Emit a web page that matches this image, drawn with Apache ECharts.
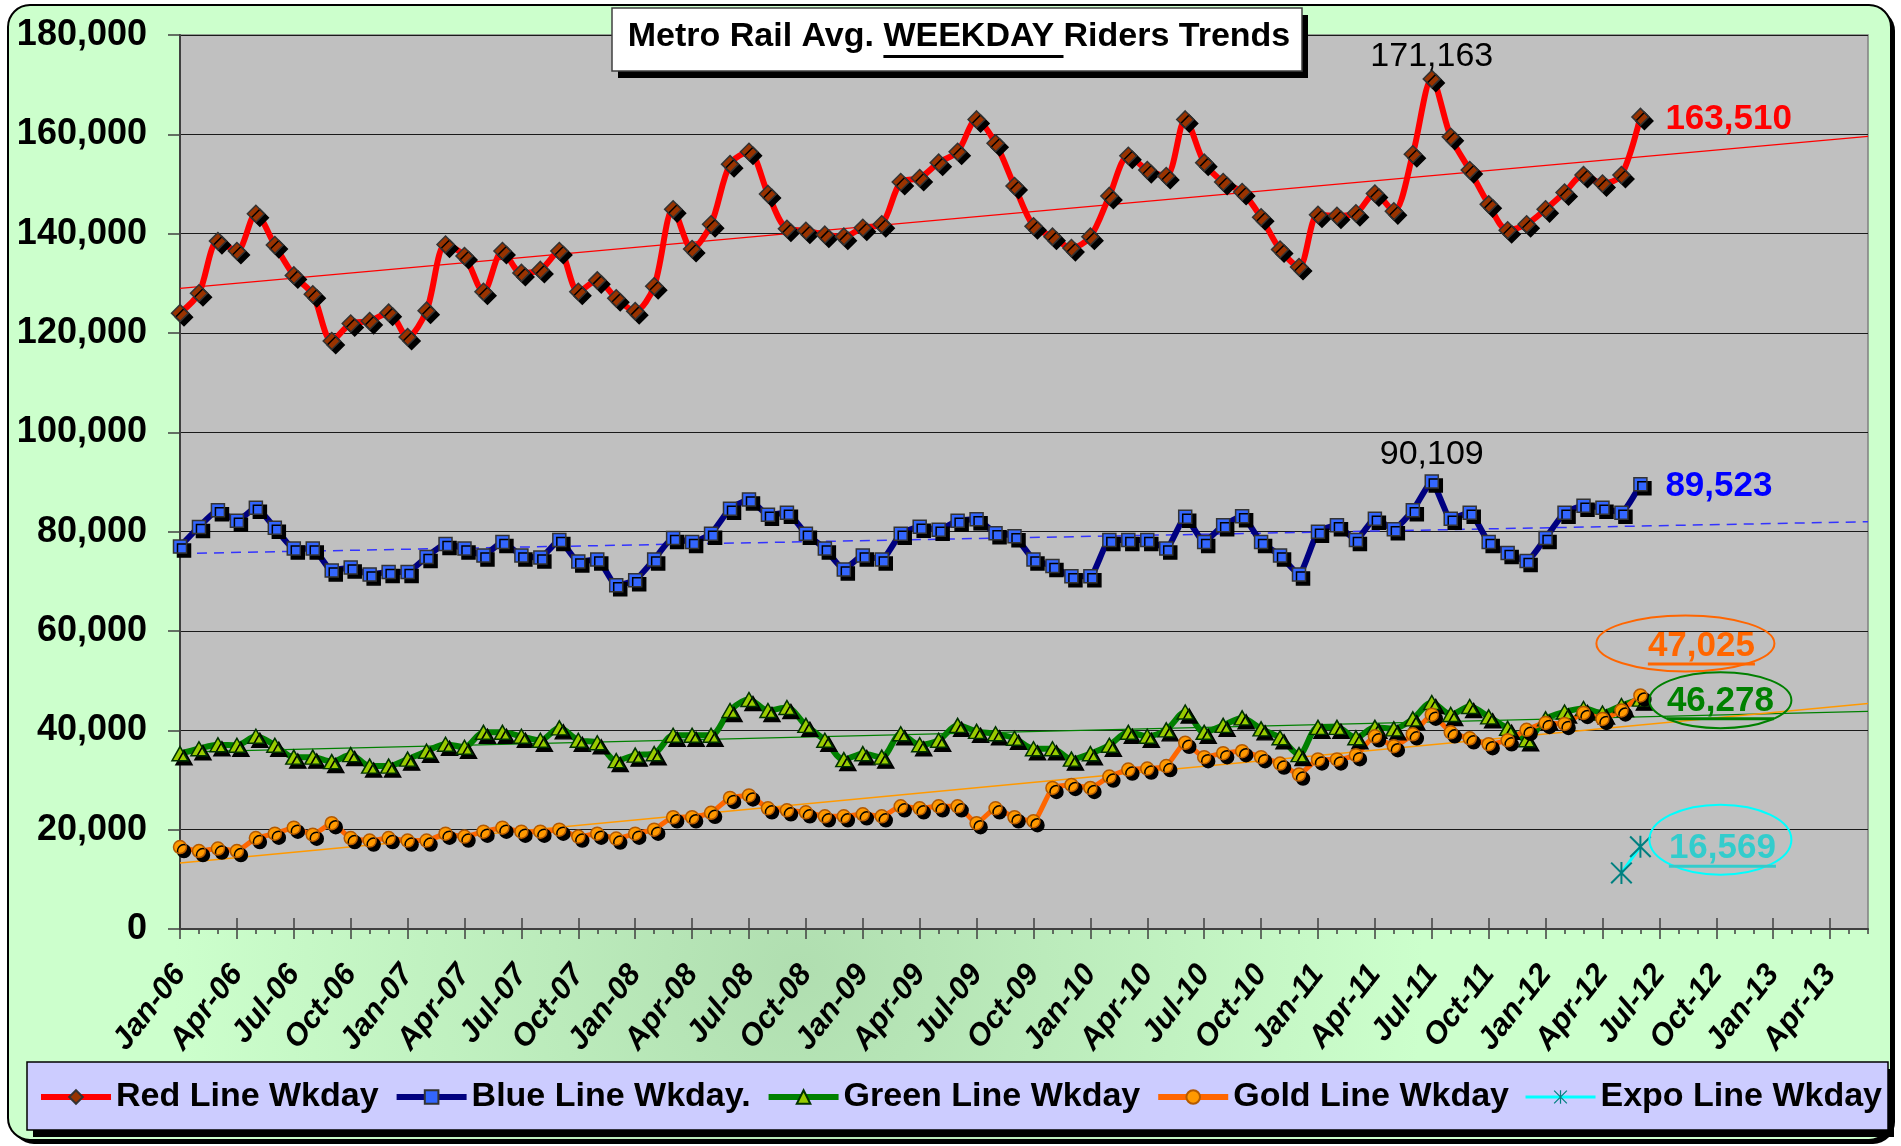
<!DOCTYPE html>
<html>
<head>
<meta charset="utf-8">
<title>Metro Rail Avg. WEEKDAY Riders Trends</title>
<script src="https://cdn.jsdelivr.net/npm/echarts@6/dist/echarts.min.js"></script>
<style>
  html, body { margin: 0; padding: 0; background: #fff; }
  #chart { width: 1901px; height: 1146px; }
</style>
</head>
<body>
<div id="chart"></div>
<script>
const months = [
  'Jan-06','Feb-06','Mar-06','Apr-06','May-06','Jun-06','Jul-06','Aug-06','Sep-06','Oct-06','Nov-06','Dec-06',
  'Jan-07','Feb-07','Mar-07','Apr-07','May-07','Jun-07','Jul-07','Aug-07','Sep-07','Oct-07','Nov-07','Dec-07',
  'Jan-08','Feb-08','Mar-08','Apr-08','May-08','Jun-08','Jul-08','Aug-08','Sep-08','Oct-08','Nov-08','Dec-08',
  'Jan-09','Feb-09','Mar-09','Apr-09','May-09','Jun-09','Jul-09','Aug-09','Sep-09','Oct-09','Nov-09','Dec-09',
  'Jan-10','Feb-10','Mar-10','Apr-10','May-10','Jun-10','Jul-10','Aug-10','Sep-10','Oct-10','Nov-10','Dec-10',
  'Jan-11','Feb-11','Mar-11','Apr-11','May-11','Jun-11','Jul-11','Aug-11','Sep-11','Oct-11','Nov-11','Dec-11',
  'Jan-12','Feb-12','Mar-12','Apr-12','May-12','Jun-12','Jul-12','Aug-12','Sep-12','Oct-12','Nov-12','Dec-12',
  'Jan-13','Feb-13','Mar-13','Apr-13','May-13','Jun-13'
];

const redLine = [
  124000,128000,138500,136500,144000,137700,131600,127800,118400,121900,122400,124100,
  119200,124500,137800,135500,128300,136500,132100,132700,136500,128300,130600,127000,
  124400,129400,144900,136900,141900,154000,156500,148000,141000,140600,139800,139400,
  141200,141900,150400,151200,154300,156500,163000,158200,149600,141500,139400,137100,
  139400,147600,155700,152800,151600,163000,154300,150400,148400,143300,136800,133300,
  143800,143600,144100,148100,144500,156000,171163,159500,152800,145900,140700,141900,
  144900,148300,151800,150100,151800,163510
];
const blueLine = [
  77000,80950,84300,82200,84800,80800,76600,76600,72200,72800,71400,71900,
  71900,74900,77500,76600,75200,77900,75200,74800,78300,74000,74400,69200,
  70200,74400,78700,77900,79600,84600,86500,83400,83800,79600,76600,72400,
  75200,74400,79600,81000,80400,82200,82500,79700,79100,74400,73100,71000,
  71000,78300,78300,78300,76600,83000,77900,81300,83100,77900,75200,71400,
  80000,81300,78300,82600,80500,84300,90109,82600,83800,77900,75700,74100,
  78700,83800,85200,84800,83800,89523
];
const greenLine = [
  35300,36300,37100,37000,38800,37000,34600,34600,33700,35100,32800,32800,
  34200,35800,37200,36600,39600,39600,38800,38000,40500,38000,37500,33900,
  35000,35300,39000,39000,39000,44000,46200,44000,44600,41000,38000,34100,
  35300,34600,39300,37100,38000,41000,39800,39300,38400,36300,36300,34200,
  35300,37000,39600,38800,40100,43700,39600,41000,42500,40300,38500,35100,
  40600,40600,38500,40600,40300,42300,45600,43200,44800,42700,40400,38100,
  42300,43700,44400,43500,45000,46278
];
const goldLine = [
  16500,15700,16200,15700,18300,19200,20400,19000,21300,18300,17800,18300,
  17800,17800,19200,18600,19600,20400,19600,19600,20000,18600,19200,18200,
  19200,20000,22500,22500,23400,26400,26900,24300,23900,23500,22700,22700,
  23100,22700,24700,24300,24700,24700,21300,24300,22500,21700,28400,29000,
  28400,30700,32100,32300,32800,37500,34600,35400,35800,34600,33300,31100,
  34150,34150,35000,38800,36800,39200,43150,39600,38400,37200,38000,40100,
  41500,41300,43500,42300,44000,47025
];
const expoMonths = ['May-12', 'Jun-12'];
const expoLine = [11300, 16569];

// trend lines: value at first and last month of the axis
const redTrend = [129000, 159600];
const blueTrend = [75600, 82000];
const greenTrend = [35600, 43800];
const goldTrend = [13300, 45400];

const seriesNames = ['Red Line Wkday', 'Blue Line Wkday.', 'Green Line Wkday', 'Gold Line Wkday', 'Expo Line Wkday'];
const titlePre = 'Metro Rail Avg. ';
const titleKey = 'WEEKDAY';
const titlePost = ' Riders Trends';

const FONT = '"Liberation Sans", Arial, sans-serif';
const chart = echarts.init(document.getElementById('chart'));

const fmt = v => v.toLocaleString('en-US');
const measureCtx = document.createElement('canvas').getContext('2d');
function textWidth(str, font) {
  measureCtx.font = font;
  return measureCtx.measureText(str).width;
}

const markShadow = { shadowColor: '#000', shadowBlur: 0, shadowOffsetX: 4, shadowOffsetY: 4 };
const asterisk = 'path://M9.1,0H10.9V20H9.1Z M0,1.3L1.3,0L20,18.7L18.7,20Z M18.7,0L20,1.3L1.3,20L0,18.7Z';

function trend(name, vals, color, width, type) {
  return {
    name, type: 'line', silent: true, z: 1,
    data: [[months[0], vals[0]], [months[months.length - 1], vals[1]]],
    symbol: 'none',
    lineStyle: { color, width, type },
    emphasis: { disabled: true },
  };
}

const gridBox = { left: 180, right: 33, top: 35, bottom: 217 };
const tickStyle = { color: '#404040', width: 1.5 };
const legendLineWidths = [6, 6, 6, 6, 3];

const option = {
  animation: false,
  backgroundColor: 'transparent',
  grid: [
    { ...gridBox, show: true, backgroundColor: '#c0c0c0', borderColor: '#808080', borderWidth: 1.5 },
    { ...gridBox },
    { ...gridBox },
  ],
  legend: {
    data: seriesNames.map((name, i) => ({ name, lineStyle: { width: legendLineWidths[i] } })),
    left: 38,
    top: 1080,
    padding: 0,
    itemWidth: 70,
    itemHeight: 17,
    itemGap: 15,
    selectedMode: false,
    textStyle: { fontFamily: FONT, fontWeight: 'bold', fontSize: 34, color: '#000' },
  },
  xAxis: [
    {
      type: 'category', data: months, boundaryGap: false, gridIndex: 0,
      axisLine: { lineStyle: { color: '#404040', width: 2 } },
      axisTick: { interval: 0, length: 5, lineStyle: tickStyle },
      axisLabel: {
        interval: 2, rotate: 52, margin: 40, color: '#000',
        fontFamily: FONT, fontWeight: 'bold', fontStyle: 'italic', fontSize: 31,
      },
      splitLine: { show: false },
    },
    {
      type: 'category', data: months, boundaryGap: false, gridIndex: 1,
      axisLine: { show: false },
      axisTick: { interval: 2, length: 10, lineStyle: tickStyle },
      axisLabel: { show: false },
    },
    {
      type: 'category', data: months, boundaryGap: false, gridIndex: 2,
      axisLine: { show: false },
      axisTick: { interval: 2, inside: true, length: 11, lineStyle: tickStyle },
      axisLabel: { show: false },
    },
  ],
  yAxis: [
    {
      type: 'value', min: 0, max: 180000, interval: 20000, gridIndex: 0,
      axisLine: { show: true, lineStyle: { color: '#404040', width: 2 } },
      axisTick: { show: true, length: 12, lineStyle: tickStyle },
      axisLabel: {
        margin: 33, color: '#000', fontFamily: FONT, fontWeight: 'bold', fontSize: 36,
        formatter: v => fmt(v),
      },
      splitLine: { lineStyle: { color: '#1a1a1a', width: 1.2 } },
    },
    { type: 'value', min: 0, max: 180000, gridIndex: 1, show: false },
    { type: 'value', min: 0, max: 180000, gridIndex: 2, show: false },
  ],
  series: [
    trend('Red trend', redTrend, '#ff0000', 1.2, 'solid'),
    trend('Blue trend', blueTrend, '#3333ff', 1.5, [10, 7]),
    trend('Green trend', greenTrend, '#008000', 1.2, 'solid'),
    trend('Gold trend', goldTrend, '#ff9900', 1.5, 'solid'),
    {
      name: seriesNames[0], type: 'line', data: redLine, smooth: 0.3, z: 3,
      showAllSymbol: true, symbol: 'diamond', symbolSize: 17,
      lineStyle: { color: '#ff0000', width: 6 },
      itemStyle: { color: '#993300', borderColor: '#333333', borderWidth: 1.5, ...markShadow },
    },
    {
      name: seriesNames[1], type: 'line', data: blueLine, smooth: 0.15, z: 3,
      showAllSymbol: true, symbol: 'rect', symbolSize: 13,
      lineStyle: { color: '#000080', width: 6 },
      itemStyle: { color: '#3366ff', borderColor: '#333333', borderWidth: 1.5, ...markShadow },
    },
    {
      name: seriesNames[2], type: 'line', data: greenLine, smooth: 0.3, z: 3,
      showAllSymbol: true, symbol: 'triangle', symbolSize: [16, 14],
      lineStyle: { color: '#008000', width: 6 },
      itemStyle: { color: '#99cc00', borderColor: '#003300', borderWidth: 1.5, ...markShadow },
    },
    {
      name: seriesNames[3], type: 'line', data: goldLine, smooth: 0.15, z: 3,
      showAllSymbol: true, symbol: 'circle', symbolSize: 13,
      lineStyle: { color: '#ff6600', width: 5 },
      itemStyle: { color: '#ff9900', borderColor: '#b35900', borderWidth: 1.5, ...markShadow },
    },
    {
      name: seriesNames[4], type: 'line', z: 3,
      data: expoMonths.map((m, i) => [m, expoLine[i]]),
      showAllSymbol: true, symbol: asterisk, symbolSize: 22,
      lineStyle: { color: '#00ffff', width: 3 },
      itemStyle: { color: '#008080' },
    },
  ],
};

chart.setOption(option);

function px(idx, val) {
  return chart.convertToPixel({ xAxisIndex: 0, yAxisIndex: 0 }, [idx, val]);
}

function buildGraphics() {
  const els = [];
  // outer frame and background
  els.push({ type: 'rect', z: -20, silent: true, shape: { x: 12, y: 9, width: 1883, height: 1135, r: 22 }, style: { fill: '#000' } });
  els.push({
    type: 'rect', z: -19, silent: true,
    shape: { x: 8, y: 5, width: 1883, height: 1135, r: 22 },
    style: {
      fill: new echarts.graphic.RadialGradient(0.42, 0.85, 0.55, [
        { offset: 0, color: '#b0deb0' }, { offset: 1, color: '#ccffcc' },
      ]),
      stroke: '#000', lineWidth: 2,
    },
  });
  // legend box
  els.push({ type: 'rect', z: -5, silent: true, shape: { x: 33, y: 1069, width: 1861, height: 68 }, style: { fill: '#000' } });
  els.push({ type: 'rect', z: -4, silent: true, shape: { x: 27, y: 1062, width: 1861, height: 68 }, style: { fill: '#ccccff', stroke: '#000', lineWidth: 1.5 } });

  // title box
  const titleFont = 'bold 34px ' + FONT;
  const titleText = titlePre + titleKey + titlePost;
  const tLeft = 959 - textWidth(titleText, titleFont) / 2;
  els.push({ type: 'rect', z: 50, silent: true, shape: { x: 618, y: 15, width: 690, height: 63 }, style: { fill: '#000' } });
  els.push({ type: 'rect', z: 51, silent: true, shape: { x: 612, y: 8, width: 690, height: 63 }, style: { fill: '#fff', stroke: '#404040', lineWidth: 1.5 } });
  els.push({ type: 'text', z: 52, silent: true, x: tLeft, y: 37, style: { text: titleText, font: titleFont, fill: '#000', align: 'left', verticalAlign: 'middle' } });
  const u1 = tLeft + textWidth(titlePre, titleFont);
  const u2 = tLeft + textWidth(titlePre + titleKey + ' ', titleFont);
  els.push({ type: 'rect', z: 52, silent: true, shape: { x: u1, y: 55, width: u2 - u1, height: 3 }, style: { fill: '#000' } });

  // peak labels
  const peakFont = '34px ' + FONT;
  [[redLine, -22], [blueLine, -27]].forEach(([arr, dy]) => {
    const v = Math.max(...arr);
    const p = px(arr.indexOf(v), v);
    els.push({ type: 'text', z: 60, silent: true, x: p[0], y: p[1] + dy, style: { text: fmt(v), font: peakFont, fill: '#000', align: 'center', verticalAlign: 'middle' } });
  });

  // latest values
  const endFont = 'bold 35px ' + FONT;
  const last = arr => arr[arr.length - 1];
  const lastIdx = redLine.length - 1;
  [[redLine, '#ff0000'], [blueLine, '#0000ff']].forEach(([arr, color]) => {
    const p = px(lastIdx, last(arr));
    els.push({ type: 'text', z: 60, silent: true, x: p[0] + 25, y: p[1] + 2, style: { text: fmt(last(arr)), font: endFont, fill: color, align: 'left', verticalAlign: 'middle' } });
  });
  const circled = [
    { val: last(goldLine), idx: lastIdx, color: '#ff6600', ring: '#ff6600', tx: 61, ty: -49, ex: 45, ey: -52, rx: 89, ry: 28 },
    { val: last(greenLine), idx: lastIdx, color: '#008000', ring: '#008000', tx: 80, ty: 2, ex: 80, ey: 1, rx: 71, ry: 28 },
    { val: last(expoLine), idx: months.indexOf(expoMonths[expoMonths.length - 1]), color: '#33cccc', ring: '#00ffff', tx: 82, ty: 2, ex: 80, ey: -7, rx: 71, ry: 35 },
  ];
  circled.forEach(c => {
    const p = px(c.idx, c.val);
    const txt = fmt(c.val);
    const w = textWidth(txt, endFont);
    const cx = p[0] + c.tx, cy = p[1] + c.ty;
    els.push({ type: 'ellipse', z: 59, silent: true, shape: { cx: p[0] + c.ex, cy: p[1] + c.ey, rx: c.rx, ry: c.ry }, style: { fill: 'none', stroke: c.ring, lineWidth: 2 } });
    els.push({ type: 'text', z: 60, silent: true, x: cx, y: cy, style: { text: txt, font: endFont, fill: c.color, align: 'center', verticalAlign: 'middle' } });
    els.push({ type: 'rect', z: 60, silent: true, shape: { x: cx - w / 2, y: cy + 16, width: w, height: 3 }, style: { fill: c.color } });
  });
  return els;
}

chart.setOption({ graphic: { elements: buildGraphics() } });
</script>
</body>
</html>
